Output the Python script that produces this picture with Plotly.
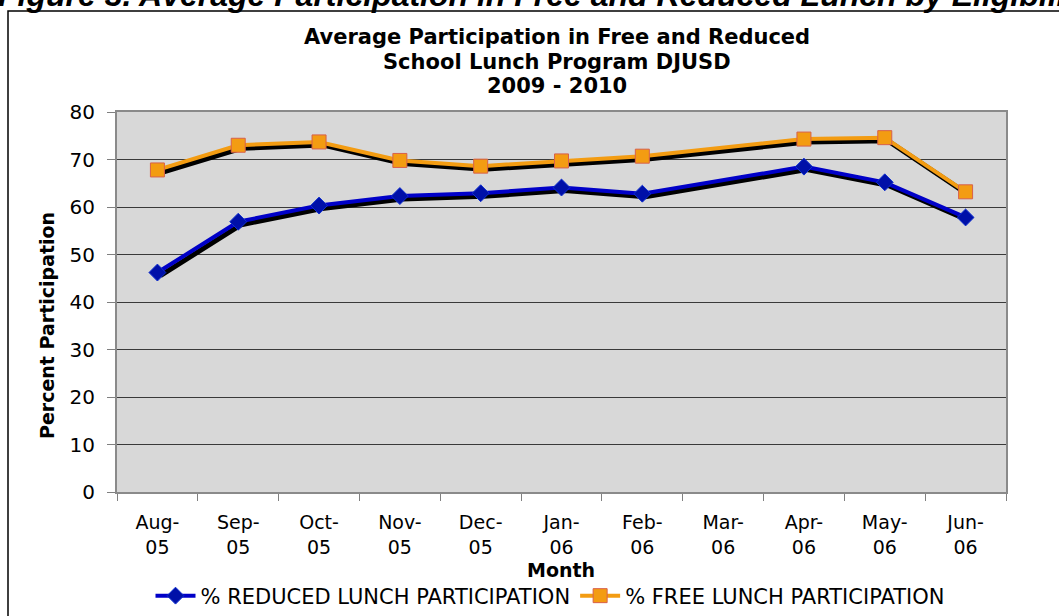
import plotly.graph_objects as go

# ---- data ----
months = ["Aug-<br>05", "Sep-<br>05", "Oct-<br>05", "Nov-<br>05", "Dec-<br>05", "Jan-<br>06",
          "Feb-<br>06", "Mar-<br>06", "Apr-<br>06", "May-<br>06", "Jun-<br>06"]
reduced = [46.2, 56.9, 60.3, 62.3, 62.9, 64.1, 62.8, None, 68.5, 65.2, 57.8]
free = [67.8, 73.0, 73.7, 69.8, 68.6, 69.7, 70.7, None, 74.3, 74.6, 63.2]
reduced_name = "% REDUCED LUNCH PARTICIPATION"
free_name = "% FREE LUNCH PARTICIPATION"
y_ticks = [0, 10, 20, 30, 40, 50, 60, 70, 80]
title_lines = ["Average Participation in Free and Reduced",
               "School Lunch Program DJUSD",
               "2009 - 2010"]
caption = "Figure 3. Average Participation in Free and Reduced Lunch by Eligibility"

W, H = 1059, 616
L, R, T, B = 117, 53, 112, 124
PW, PH = W - L - R, H - T - B


def px_x(px):
    return (px - L) / PW


def px_y(py):
    return (H - B - py) / PH


FONT = "DejaVu Sans"
BLUE = "#0000C8"
ORANGE = "#F39C12"

fig = go.Figure()

# shadow traces (base hidden axes, slightly offset ranges)
for vals in (reduced, free):
    fig.add_trace(go.Scatter(x=months, y=vals, mode="lines", connectgaps=True,
                             line=dict(color="black", width=5),
                             xaxis="x", yaxis="y", showlegend=False, hoverinfo="skip"))

fig.add_trace(go.Scatter(x=months, y=reduced, name=reduced_name, mode="lines+markers",
                         connectgaps=True, line=dict(color=BLUE, width=4),
                         marker=dict(symbol="diamond", size=13, color="#0010A8",
                                     line=dict(color="#1030D0", width=1)),
                         xaxis="x2", yaxis="y2"))
fig.add_trace(go.Scatter(x=months, y=free, name=free_name, mode="lines+markers",
                         connectgaps=True, line=dict(color=ORANGE, width=4),
                         marker=dict(symbol="square", size=14, color=ORANGE,
                                     line=dict(color="#D8604A", width=1)),
                         xaxis="x2", yaxis="y2"))

dx = 3 / (PW / len(months))
dy = 3 / (PH / 80)

fig.update_layout(
    width=W, height=H,
    margin=dict(l=L, r=R, t=T, b=B, autoexpand=False),
    paper_bgcolor="white",
    plot_bgcolor="#D8D8D8",
    font=dict(family=FONT, size=20, color="black"),
    xaxis=dict(type="category", categoryarray=months, range=[-0.5 - dx, len(months) - 0.5 - dx],
               visible=False, showgrid=False, fixedrange=True),
    yaxis=dict(range=[dy, 80 + dy], visible=False, showgrid=False, zeroline=False),
    xaxis2=dict(type="category", categoryarray=months, overlaying="x",
                range=[-0.5, len(months) - 0.5], tickson="boundaries",
                ticks="outside", ticklen=7, tickcolor="#808080", tickwidth=1,
                showline=True, linecolor="#8A8A8A", linewidth=2, mirror=True,
                showgrid=False, tickfont=dict(size=19, family=FONT),
                ticklabelstandoff=12),
    yaxis2=dict(overlaying="y", range=[0, 80], tickvals=y_ticks, side="left",
                ticks="outside", ticklen=8, tickcolor="#808080", tickwidth=1,
                showline=True, linecolor="#8A8A8A", linewidth=2, mirror=True,
                showgrid=True, gridcolor="#3A3A3A", gridwidth=1, zeroline=False,
                ticklabelstandoff=8, tickfont=dict(size=20, family=FONT)),
    legend=dict(orientation="h", x=px_x(550), xanchor="center", y=px_y(596), yanchor="middle",
                font=dict(size=21, family=FONT), bgcolor="rgba(0,0,0,0)", itemwidth=40,
                tracegroupgap=0),
    showlegend=True,
)

# x axis title
fig.add_annotation(text="<b>Month</b>", xref="paper", yref="paper",
                   x=px_x(561), y=px_y(570), xanchor="center", yanchor="middle",
                   showarrow=False, borderpad=0, font=dict(family=FONT, size=19, color="black"))

# y axis title (placed like the original, slightly below plot centre)
fig.add_annotation(text="<b>Percent Participation</b>", xref="paper", yref="paper",
                   x=px_x(47), y=px_y(326), xanchor="center", yanchor="middle",
                   textangle=-90, showarrow=False, font=dict(family=FONT, size=19, color="black"))

# chart title lines
for text, cy in zip(title_lines, (37.5, 62, 86.5)):
    fig.add_annotation(text="<b>" + text + "</b>", xref="paper", yref="paper",
                       x=px_x(557), y=px_y(cy), xanchor="center", yanchor="middle",
                       showarrow=False, borderpad=0,
                       font=dict(family=FONT, size=21, color="black"))

# document caption (cut at the top)
fig.add_annotation(text="<b><i>" + caption + "</i></b>",
                   xref="paper", yref="paper", x=px_x(-3), y=px_y(14), xanchor="left",
                   yanchor="bottom", showarrow=False, borderpad=0,
                   font=dict(family="Liberation Sans", size=32, color="black"))

# outer frame of the chart
fig.add_shape(type="rect", xref="paper", yref="paper",
              x0=px_x(8), x1=px_x(W + 20), y0=px_y(H + 20), y1=px_y(11),
              line=dict(color="black", width=1.5), fillcolor="rgba(0,0,0,0)", layer="above")

fig.write_html("out.html", config={"displayModeBar": False},
               post_script="document.body.style.margin='0';document.body.style.overflow='hidden';")
